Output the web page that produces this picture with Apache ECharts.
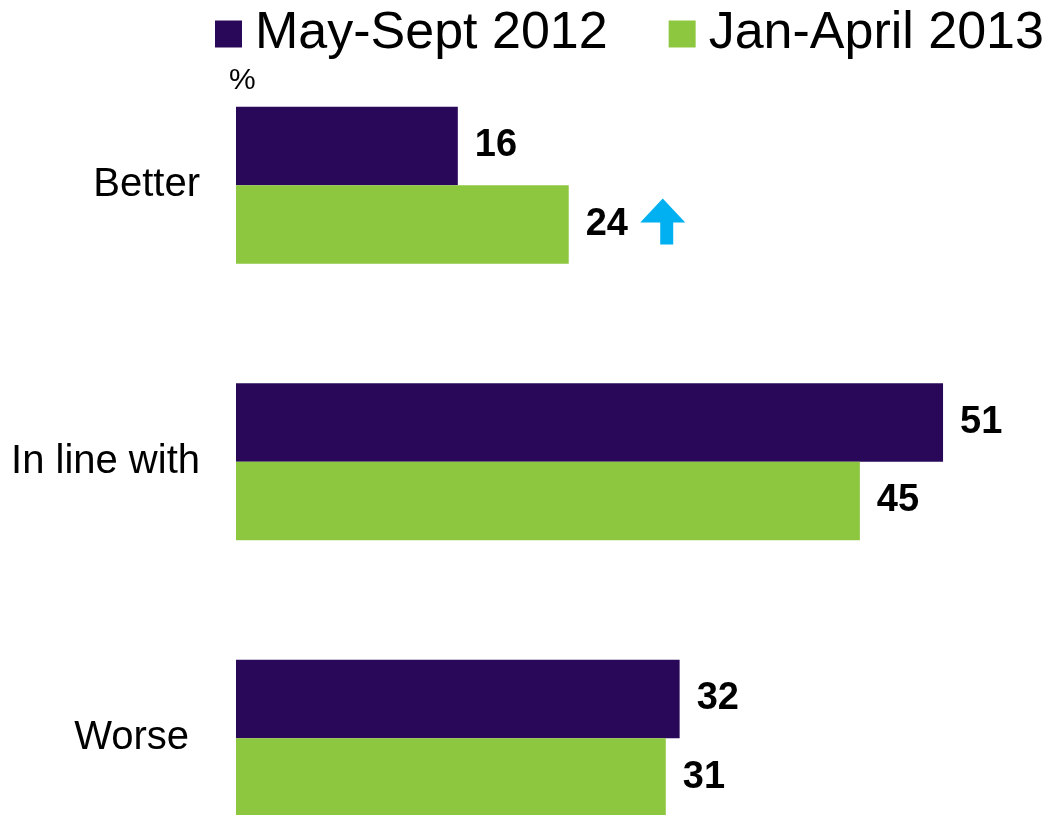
<!DOCTYPE html>
<html>
<head>
<meta charset="utf-8">
<script src="https://cdn.jsdelivr.net/npm/echarts@6/dist/echarts.min.js"></script>
<style>
  html, body { margin: 0; padding: 0; background: #fff; }
  #chart { width: 1047px; height: 815px; }
</style>
</head>
<body>
<div id="chart"></div>
<script>
// Survey answers, shares in percent
const categories = ['Better', 'In line with', 'Worse'];
const seriesNames = ['May-Sept 2012', 'Jan-April 2013'];
const may2012 = [16, 51, 32];
const jan2013 = [24, 45, 31];

const FONT = '"Liberation Sans", Arial, Helvetica, sans-serif';
const PURPLE = '#29085A';
const GREEN = '#8DC63F';

const chart = echarts.init(document.getElementById('chart'), null, { renderer: 'canvas' });

const valueLabel = {
  show: true,
  position: 'right',
  distance: 17,
  color: '#000',
  fontFamily: FONT,
  fontWeight: 'bold',
  fontSize: 38
};

chart.setOption({
  animation: false,
  backgroundColor: '#fff',
  legend: {
    data: seriesNames,
    orient: 'horizontal',
    left: 215,
    top: 8,
    padding: 0,
    width: 900,
    icon: 'rect',
    itemWidth: 27,
    itemHeight: 27,
    itemGap: 61,
    textStyle: { fontFamily: FONT, fontSize: 52, color: '#000', padding: [0, 0, 0, 8] }
  },
  graphic: [{
    type: 'text',
    left: 229,
    top: 66,
    style: { text: '%', fontFamily: FONT, fontSize: 30, fill: '#000' }
  }],
  // the last band runs past the bottom edge of the page
  grid: {
    left: 236, top: 47, width: 762.5, height: 829.5,
    containLabel: false, outerBoundsMode: 'none'
  },
  xAxis: {
    type: 'value',
    min: 0,
    max: 55,
    show: false
  },
  yAxis: {
    type: 'category',
    data: categories,
    inverse: true,
    axisLine: { show: false },
    axisTick: { show: false },
    splitLine: { show: false },
    axisLabel: {
      margin: 36,
      color: '#000',
      fontFamily: FONT,
      fontSize: 40,
      formatter: function (v) {
        return v === 'Worse' ? '{w|' + v + '}' : v;
      },
      rich: {
        w: { fontFamily: FONT, fontSize: 40, color: '#000', padding: [0, 11, 0, 0] }
      }
    }
  },
  series: [
    {
      name: seriesNames[0],
      type: 'bar',
      data: may2012,
      barWidth: 78.5,
      barGap: '0%',
      itemStyle: { color: PURPLE },
      label: valueLabel
    },
    {
      name: seriesNames[1],
      type: 'bar',
      data: jan2013,
      barWidth: 78.5,
      barGap: '0%',
      itemStyle: { color: GREEN },
      label: valueLabel,
      markPoint: {
        symbol: 'path://M22.5,0 L45,24 L33,24 L33,46 L20,46 L20,24 L0,24 Z',
        symbolSize: [45, 46],
        symbolOffset: [94, -3],
        itemStyle: { color: '#00B0F0' },
        label: { show: false },
        data: [{ coord: [jan2013[0], categories[0]] }]
      }
    }
  ]
});
</script>
</body>
</html>
